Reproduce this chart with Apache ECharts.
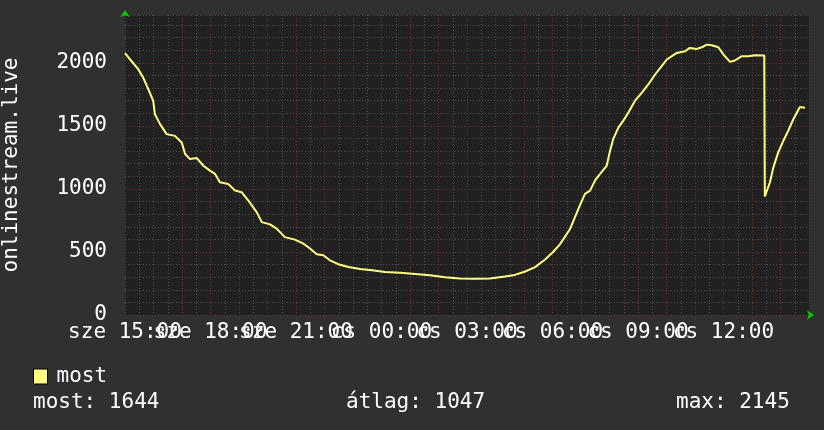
<!DOCTYPE html>
<html>
<head>
<meta charset="utf-8">
<script src="https://cdn.jsdelivr.net/npm/echarts@6/dist/echarts.min.js"></script>
<style>
  html, body { margin: 0; padding: 0; background: #303030; }
  #chart { width: 824px; height: 430px; }
</style>
</head>
<body>
<div id="chart"></div>
<script>
// hours since sze 15:00
const hours = [0, 0.18, 0.47, 0.64, 0.82, 0.99, 1.05, 1.23, 1.46, 1.75, 1.99, 2.11, 2.28, 2.52, 2.75, 2.98,
  3.16, 3.33, 3.62, 3.86, 4.09, 4.33, 4.62, 4.8, 5.09, 5.32, 5.61, 5.96, 6.26, 6.49, 6.73, 6.96,
  7.19, 7.48, 7.84, 8.25, 8.67, 9.12, 9.65, 10.18, 10.7, 11.23, 11.75, 12.28, 12.81, 13.33, 13.68,
  14.04, 14.39, 14.74, 15.02, 15.26, 15.61, 15.96, 16.14, 16.32, 16.49, 16.67, 16.9, 17.02, 17.13,
  17.31, 17.48, 17.66, 17.89, 18.13, 18.36, 18.6, 18.83, 19.01, 19.36, 19.65, 19.82, 20.06, 20.24,
  20.41, 20.59, 20.82, 21.0, 21.23, 21.4, 21.64, 21.87, 22.11, 22.43, 22.45, 22.63, 22.75, 22.92,
  23.1, 23.27, 23.45, 23.68, 23.86]
const users = [2077, 2027, 1948, 1882, 1790, 1698, 1593, 1514, 1435, 1421, 1368, 1277, 1237, 1245, 1184, 1145,
  1119, 1053, 1040, 987, 974, 908, 816, 737, 719, 685, 618, 598, 566, 527, 482, 474,
  434, 403, 381, 365, 355, 342, 335, 325, 315, 300, 290, 288, 290, 305, 318,
  345, 380, 440, 500, 560, 680, 869, 961, 987, 1066, 1119, 1184, 1303, 1395,
  1487, 1540, 1605, 1698, 1763, 1829, 1908, 1974, 2027, 2079, 2092, 2119, 2111, 2124,
  2145, 2140, 2124, 2066, 2008, 2019, 2053, 2053, 2061, 2058, 940, 1053, 1171, 1290,
  1382, 1461, 1553, 1650, 1644]

const tickHours = [0, 3, 6, 9, 12, 15, 18, 21]
const tickLabels = ['sze 15:00', 'sze 18:00', 'sze 21:00', 'cs 00:00', 'cs 03:00', 'cs 06:00', 'cs 09:00', 'cs 12:00']
const yLabels = [0, 500, 1000, 1500, 2000]
const seriesName = 'most'
const yName = 'onlinestream.live'
const statLabels = ['most: 1644', 'átlag: 1047', 'max: 2145']

const font = 'DejaVu Sans Mono'
const red = '#6c2e2e'
const grey = '#4e4e4e'

const chart = echarts.init(document.getElementById('chart'))

chart.setOption({
  backgroundColor: '#303030',
  animation: false,
  grid: {
    left: 125,
    right: 15,
    top: 15,
    bottom: 115,
    outerBoundsMode: 'none',
    show: true,
    backgroundColor: '#212121',
    borderWidth: 0
  },
  legend: {
    data: [seriesName],
    left: 33,
    top: 366,
    padding: 0,
    itemWidth: 14,
    itemHeight: 15,
    icon: 'rect',
    itemStyle: { borderColor: '#000', borderWidth: 1 },
    textStyle: { color: '#fff', fontFamily: font, fontSize: 21, padding: [0, 0, 0, 4] }
  },
  xAxis: {
    type: 'value',
    min: 0,
    max: 24,
    interval: 0.5,
    axisLine: {
      show: true,
      symbol: ['none', 'arrow'],
      symbolSize: [7, 7],
      symbolOffset: [0, 5],
      lineStyle: { color: '#00cc00', width: 0 }
    },
    axisTick: { show: false },
    splitLine: {
      show: true,
      lineStyle: { color: [red, grey], type: [1, 2], width: 1 }
    },
    axisLabel: {
      color: '#fff',
      fontFamily: font,
      fontSize: 21,
      margin: 7,
      hideOverlap: false,
      formatter: (v) => {
        const i = tickHours.findIndex(h => Math.abs(h - v) < 1e-6)
        return i >= 0 ? tickLabels[i] : ''
      }
    }
  },
  yAxis: {
    type: 'value',
    min: 0,
    max: 2380,
    interval: 100,
    name: yName,
    nameLocation: 'middle',
    nameGap: 103,
    nameTextStyle: { color: '#fff', fontFamily: font, fontSize: 21 },
    axisLine: {
      show: true,
      symbol: ['none', 'arrow'],
      symbolSize: [7, 7],
      symbolOffset: [0, 5],
      lineStyle: { color: '#00cc00', width: 0 }
    },
    axisTick: { show: false },
    splitLine: {
      show: true,
      lineStyle: { color: [red, grey, grey, grey, grey], type: [1, 2], width: 1 }
    },
    axisLabel: {
      color: '#fff',
      fontFamily: font,
      fontSize: 21,
      margin: 18,
      formatter: (v) => (yLabels.indexOf(v) >= 0 ? String(v) : '')
    }
  },
  series: [
    {
      name: seriesName,
      type: 'line',
      showSymbol: false,
      data: hours.map((h, i) => [h, users[i]]),
      lineStyle: { color: '#ffff80', width: 2 },
      itemStyle: { color: '#ffff80' }
    }
  ],
  graphic: [
    { type: 'text', left: 33, top: 392, style: { text: statLabels[0], fill: '#fff', font: '21px ' + font } },
    { type: 'text', left: 346, top: 392, style: { text: statLabels[1], fill: '#fff', font: '21px ' + font } },
    { type: 'text', left: 676, top: 392, style: { text: statLabels[2], fill: '#fff', font: '21px ' + font } }
  ]
})
</script>
</body>
</html>
